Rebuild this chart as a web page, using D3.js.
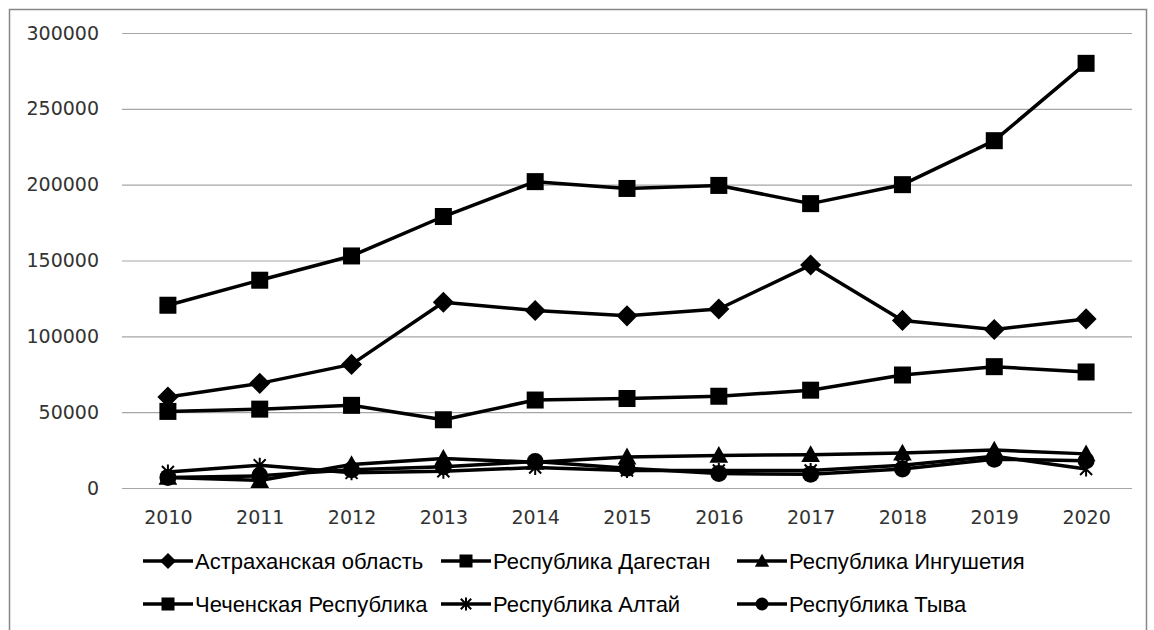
<!DOCTYPE html>
<html>
<head>
<meta charset="utf-8">
<script src="https://cdn.jsdelivr.net/npm/d3@7/dist/d3.min.js"></script>
<style>
  body { margin: 0; background: #fff; }
</style>
</head>
<body>
<div id="chart-area"></div>
<script>
// values
var years = [2010, 2011, 2012, 2013, 2014, 2015, 2016, 2017, 2018, 2019, 2020];
var yTicks = [0, 50000, 100000, 150000, 200000, 250000, 300000];

var astrakhan  = [60000, 69000, 81500, 122500, 117000, 113500, 118000, 147000, 110500, 104500, 111500];
var dagestan   = [120500, 137000, 153000, 179000, 202000, 197500, 199500, 187500, 200000, 229000, 280000];
var ingushetia = [7000, 5000, 15500, 19500, 17000, 20500, 21500, 22000, 23000, 25000, 22500];
var chechnya   = [50500, 52000, 54500, 45000, 58000, 59000, 60500, 64500, 74500, 80000, 76500];
var altai      = [10500, 15000, 10000, 11000, 13500, 11500, 11500, 11500, 15000, 21000, 12500];
var tyva       = [7000, 8000, 12000, 14000, 17500, 13000, 9500, 9000, 12500, 19000, 18000];

var seriesNames = ["Астраханская область", "Республика Дагестан", "Республика Ингушетия",
                   "Чеченская Республика", "Республика Алтай", "Республика Тыва"];
var seriesValues = [astrakhan, dagestan, ingushetia, chechnya, altai, tyva];
var seriesMarkers = ["diamond", "square", "triangle", "square", "star", "circle"];

function lineChart(){
    var W = 1154, H = 630;
    var margin = { left: 122, right: 22, top: 33, bottom: 142 };
    var width = W - margin.left - margin.right,
        height = H - margin.top - margin.bottom;

    var root = d3.select("#chart-area")
        .append("svg")
            .attr("width", W)
            .attr("height", H);

    // outer frame
    root.append("rect")
        .attr("x", 9.5).attr("y", 9.5)
        .attr("width", 1137).attr("height", 640)
        .attr("fill", "none")
        .attr("stroke", "#878787")
        .attr("stroke-width", 1.5);

    var svg = root.append("g")
        .attr("transform", "translate(" + margin.left + "," + margin.top + ")");

    var x = d3.scalePoint()
        .domain(years)
        .range([0, width])
        .padding(0.5);

    var y = d3.scaleLinear()
        .domain([0, 300000])
        .range([height, 0]);

    // Y axis with gridlines
    var yAxis = svg.append("g")
        .call(d3.axisLeft(y).tickValues(yTicks).tickSize(-width).tickPadding(23).tickFormat(d3.format("d")));
    yAxis.select(".domain").remove();
    yAxis.selectAll("line").attr("stroke", "#a6a6a6").attr("stroke-width", 1.2);
    yAxis.selectAll("text")
        .attr("font-family", "DejaVu Sans")
        .attr("font-size", "19px")
        .attr("fill", "#333");

    // X axis labels
    var xAxis = svg.append("g")
        .attr("transform", "translate(0," + height + ")")
        .call(d3.axisBottom(x).tickSize(0).tickPadding(23));
    xAxis.select(".domain").remove();
    xAxis.selectAll("text")
        .attr("font-family", "DejaVu Sans")
        .attr("font-size", "19px")
        .attr("fill", "#333");

    // marker drawing helper
    function drawMarker(g, type, s){
        if (type == "square"){
            g.append("rect").attr("x", -s/2).attr("y", -s/2).attr("width", s).attr("height", s).attr("fill", "#000");
        } else if (type == "diamond"){
            var h = s * 0.62;
            g.append("path").attr("d", "M0," + (-h) + "L" + h + ",0L0," + h + "L" + (-h) + ",0Z").attr("fill", "#000");
        } else if (type == "triangle"){
            var t = s * 0.55;
            g.append("path").attr("d", "M0," + (-t) + "L" + t + "," + (t*0.8) + "L" + (-t) + "," + (t*0.8) + "Z").attr("fill", "#000");
        } else if (type == "circle"){
            g.append("circle").attr("r", s/2).attr("fill", "#000");
        } else if (type == "star"){
            var r = s / 2;
            g.append("path")
                .attr("d", "M0," + (-r) + "L0," + r +
                           "M" + (-r*0.8) + "," + (-r*0.8) + "L" + (r*0.8) + "," + (r*0.8) +
                           "M" + (r*0.8) + "," + (-r*0.8) + "L" + (-r*0.8) + "," + (r*0.8))
                .attr("stroke", "#000")
                .attr("stroke-width", 2)
                .attr("fill", "none");
        }
    }

    var line = d3.line()
        .x(function(d, i){ return x(years[i]); })
        .y(function(d){ return y(d); });

    // series
    seriesValues.forEach(function(values, k){
        svg.append("path")
            .datum(values)
            .attr("d", line)
            .attr("fill", "none")
            .attr("stroke", "#000")
            .attr("stroke-width", 3.5)
            .attr("stroke-linejoin", "round");

        values.forEach(function(v, i){
            var m = svg.append("g")
                .attr("transform", "translate(" + x(years[i]) + "," + y(v) + ")");
            drawMarker(m, seriesMarkers[k], seriesMarkers[k] == "star" ? 15 : 17);
        });
    });

    // legend
    var legendCols = [143, 441, 737];
    var legendRows = [561, 604];
    seriesNames.forEach(function(name, k){
        var lx = legendCols[k % 3], ly = legendRows[Math.floor(k / 3)];
        var row = root.append("g")
            .attr("transform", "translate(" + lx + "," + ly + ")");
        row.append("line")
            .attr("x1", 0).attr("x2", 50)
            .attr("stroke", "#000")
            .attr("stroke-width", 3.5);
        var m = row.append("g").attr("transform", "translate(25,0)");
        drawMarker(m, seriesMarkers[k], 13);
        row.append("text")
            .attr("x", 52)
            .attr("y", 8)
            .attr("font-family", "Liberation Sans")
            .attr("font-size", "22px")
            .attr("fill", "#000")
            .text(name);
    });
}

lineChart();
</script>
</body>
</html>
